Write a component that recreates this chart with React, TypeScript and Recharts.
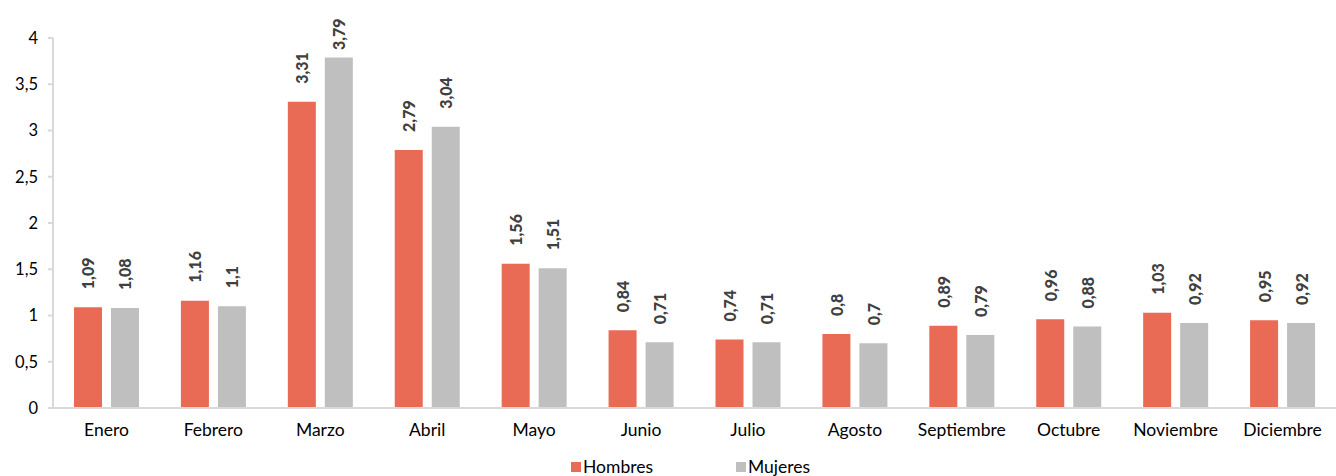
import React from "react";
import { BarChart, Bar, XAxis, YAxis, Legend, LabelList } from "recharts";

const months = [
  "Enero", "Febrero", "Marzo", "Abril", "Mayo", "Junio",
  "Julio", "Agosto", "Septiembre", "Octubre", "Noviembre", "Diciembre",
];
const hombres = [1.09, 1.16, 3.31, 2.79, 1.56, 0.84, 0.74, 0.8, 0.89, 0.96, 1.03, 0.95];
const mujeres = [1.08, 1.1, 3.79, 3.04, 1.51, 0.71, 0.71, 0.7, 0.79, 0.88, 0.92, 0.92];
const yTicks = [0, 0.5, 1, 1.5, 2, 2.5, 3, 3.5, 4];

const RED = "#E96A55";
const GRAY = "#BFBFBF";
const FONT = "Lato, 'DejaVu Sans', sans-serif";

const data = months.map((m, i) => ({ month: m, hombres: hombres[i], mujeres: mujeres[i] }));

const fmt = (v: number) => String(v).replace(".", ",");

const RotatedLabel = (props: any) => {
  const { x, y, width, value } = props;
  const cx = x + width / 2;
  let end = y - 18;
  if (end - 36 < 14) end = 50;
  return (
    <text
      x={cx}
      y={end}
      transform={`rotate(-90, ${cx}, ${end})`}
      textAnchor="start"
      dominantBaseline="central"
      fontFamily={FONT}
      fontWeight={900}
      fontSize={16}
      fill="#404040"
    >
      {fmt(value)}
    </text>
  );
};

const LegendContent = () => (
  <div style={{ position: "relative", height: 20, fontFamily: FONT, fontSize: 17.5, color: "#000" }}>
    <div style={{ position: "absolute", left: 571, top: 0, display: "flex", alignItems: "center" }}>
      <span style={{ width: 10, height: 10, background: RED, display: "inline-block", marginRight: 2 }} />
      <span>Hombres</span>
    </div>
    <div style={{ position: "absolute", left: 736, top: 0, display: "flex", alignItems: "center" }}>
      <span style={{ width: 10, height: 10, background: GRAY, display: "inline-block", marginRight: 2 }} />
      <span>Mujeres</span>
    </div>
  </div>
);

export default function App() {
  return (
    <div style={{ position: "absolute", left: 0, top: 0, background: "#fff" }}>
      <BarChart
        width={1336}
        height={476}
        data={data}
        margin={{ top: 38, right: 0, left: 0, bottom: 0 }}
        barCategoryGap={21}
        barGap={9}
      >
        <XAxis
          dataKey="month"
          axisLine={{ stroke: "#D9D9D9", strokeWidth: 2 }}
          tickLine={false}
          tick={{ fontFamily: FONT, fontSize: 17.5, fill: "#000" }}
          height={48}
          tickMargin={10}
          interval={0}
        />
        <YAxis
          domain={[0, 4]}
          ticks={yTicks}
          width={53}
          axisLine={{ stroke: "#D9D9D9", strokeWidth: 2 }}
          tickLine={{ stroke: "#D9D9D9", strokeWidth: 2 }}
          tickSize={5}
          tick={{ fontFamily: FONT, fontSize: 16.5, fill: "#000" }}
          tickFormatter={fmt}
          tickMargin={10}
        />
        <Legend verticalAlign="bottom" content={<LegendContent />} wrapperStyle={{ left: 0, bottom: 0, width: 1336 }} />
        <Bar dataKey="hombres" name="Hombres" fill={RED} isAnimationActive={false}>
          <LabelList dataKey="hombres" content={<RotatedLabel />} />
        </Bar>
        <Bar dataKey="mujeres" name="Mujeres" fill={GRAY} isAnimationActive={false}>
          <LabelList dataKey="mujeres" content={<RotatedLabel />} />
        </Bar>
      </BarChart>
    </div>
  );
}
